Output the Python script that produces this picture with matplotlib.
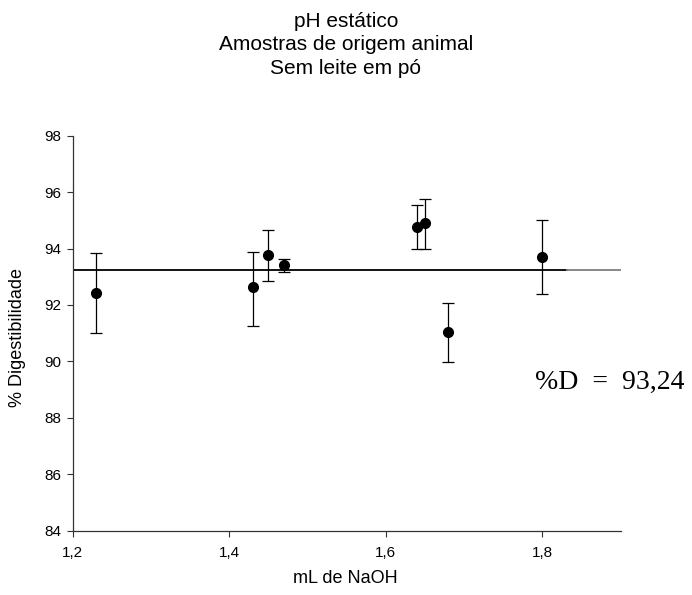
import numpy as np
import matplotlib
matplotlib.use('Agg')
import matplotlib.pyplot as plt

plt.rcParams['font.family'] = ['Liberation Sans', 'DejaVu Sans']

# mL NaOH vs % digestibility, with error bars
ml_naoh = [1.23, 1.43, 1.45, 1.47, 1.64, 1.65, 1.68, 1.80]
digest = [92.44, 92.62, 93.77, 93.41, 94.78, 94.90, 91.06, 93.71]
upper = [93.83, 93.89, 94.66, 93.63, 95.55, 95.76, 92.08, 95.00]
lower = [91.00, 91.26, 92.85, 93.16, 93.98, 93.99, 89.97, 92.39]
mean_d = 93.24
line_x = [1.2, 1.832, 1.9]
title_lines = ['pH estático', 'Amostras de origem animal', 'Sem leite em pó']

yerr = [np.array(digest) - np.array(lower), np.array(upper) - np.array(digest)]

fig = plt.figure(figsize=(6.92, 5.95), dpi=100)
ax = fig.add_axes([0.105, 0.108, 0.792, 0.664])

ax.plot(line_x[:2], [mean_d, mean_d], color='black', lw=1.3, zorder=2)
ax.plot(line_x[1:], [mean_d, mean_d], color='#808080', lw=1.3, zorder=2)
ax.errorbar(ml_naoh, digest, yerr=yerr, fmt='o', color='black', ms=7,
            ecolor='black', elinewidth=0.9, capsize=4.5, capthick=0.9, zorder=3)

ax.set_xlim(1.2, 1.9)
ax.set_ylim(84, 98)
ax.set_xticks([1.2, 1.4, 1.6, 1.8])
ax.set_xticklabels(['1,2', '1,4', '1,6', '1,8'])
ax.set_yticks(np.arange(84, 99, 2))
for s in ['top', 'right']:
    ax.spines[s].set_visible(False)
for s in ['left', 'bottom']:
    ax.spines[s].set_color('#333333')
    ax.spines[s].set_linewidth(0.9)
ax.tick_params(direction='out', length=4, width=0.8, labelsize=11, colors='#333333',
               labelcolor='black', pad=4)
ax.tick_params(axis='x', pad=7)

ax.set_xlabel('mL de NaOH', fontsize=13, va='center')
ax.xaxis.set_label_coords(0.497, -0.12)
ax.set_ylabel('% Digestibilidade', fontsize=13, va='center')
ax.yaxis.set_label_coords(-0.10, 0.49)

for i, t in enumerate(title_lines):
    fig.text(0.5, 0.955 - i * 0.0397, t, ha='center', va='baseline', fontsize=15)

ax.text(1.79, 89.04, '%D  =  93,24', fontsize=20, family='Liberation Serif',
        ha='left', va='baseline')

fig.savefig('out.png', dpi=100)
